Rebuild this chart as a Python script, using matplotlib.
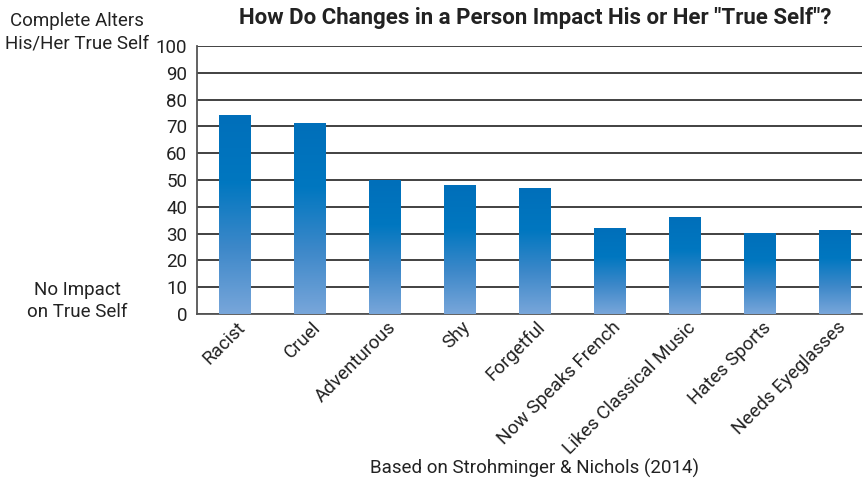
import numpy as np
import matplotlib
matplotlib.use("Agg")
import matplotlib.pyplot as plt
from matplotlib.colors import LinearSegmentedColormap
from matplotlib.transforms import ScaledTranslation

categories = ["Racist", "Cruel", "Adventurous", "Shy", "Forgetful",
              "Now Speaks French", "Likes Classical Music", "Hates Sports", "Needs Eyeglasses"]
values = [74, 71, 50, 48, 47, 32, 36, 30, 31]
yticks = [0, 10, 20, 30, 40, 50, 60, 70, 80, 90, 100]

plt.rcParams['font.family'] = ['Roboto', 'DejaVu Sans']
fig = plt.figure(figsize=(8.63, 4.83), dpi=100)
W, H = 863, 483
ax = fig.add_axes([197 / W, 1 - 314 / H, 665 / W, 268 / H])

cmap = LinearSegmentedColormap.from_list("g", ["#78a6da", "#3d88c9", "#0077c0", "#006fba"])
width = 0.42
x = np.arange(len(categories))
bars = ax.bar(x, values, width=width, color="none", zorder=3)
grad = np.linspace(0, 1, 256).reshape(-1, 1)
for b in bars:
    x0 = b.get_x(); h = b.get_height()
    ax.imshow(grad, extent=[x0, x0 + width, 0, h], origin="lower", aspect="auto",
              cmap=cmap, zorder=3)

fs = 13.5
ax.set_xlim(-0.5, -0.5 + 665 / 75)
ax.set_ylim(0, 100)
ax.set_yticks(yticks)
ax.set_yticklabels([str(t) for t in yticks], fontsize=fs, color="#222222")
ax.yaxis.grid(True, color="#333333", linewidth=1.3, zorder=0)
ax.set_axisbelow(True)
ax.tick_params(axis="y", length=0, pad=7)
ax.tick_params(axis="x", length=0, pad=3)
ax.set_xticks(x)
ax.set_xticklabels(categories, rotation=45, ha="right", va="top", rotation_mode="anchor",
                   fontsize=fs, color="#222222")
off = ScaledTranslation(2 / 100, 0, fig.dpi_scale_trans)
for lbl in ax.get_xticklabels():
    lbl.set_transform(lbl.get_transform() + off)
for s in ["top", "right"]:
    ax.spines[s].set_visible(False)
for s in ["left", "bottom"]:
    ax.spines[s].set_color("#555555")
    ax.spines[s].set_linewidth(1.3)

fig.text(535 / W, 1 - 18 / H, 'How Do Changes in a Person Impact His or Her "True Self"?',
         ha="center", va="center", fontsize=16, fontweight="bold", color="#222222")
fig.text(77 / W, 1 - 32 / H, "Complete Alters\nHis/Her True Self", ha="center", va="center",
         fontsize=fs, color="#222222", linespacing=1.3)
fig.text(77 / W, 1 - 301 / H, "No Impact\non True Self", ha="center", va="center",
         fontsize=fs, color="#222222", linespacing=1.3)
fig.text(534 / W, 1 - 468 / H, "Based on Strohminger & Nichols (2014)", ha="center", va="center",
         fontsize=fs, color="#222222")

fig.savefig("out.png", dpi=100)
